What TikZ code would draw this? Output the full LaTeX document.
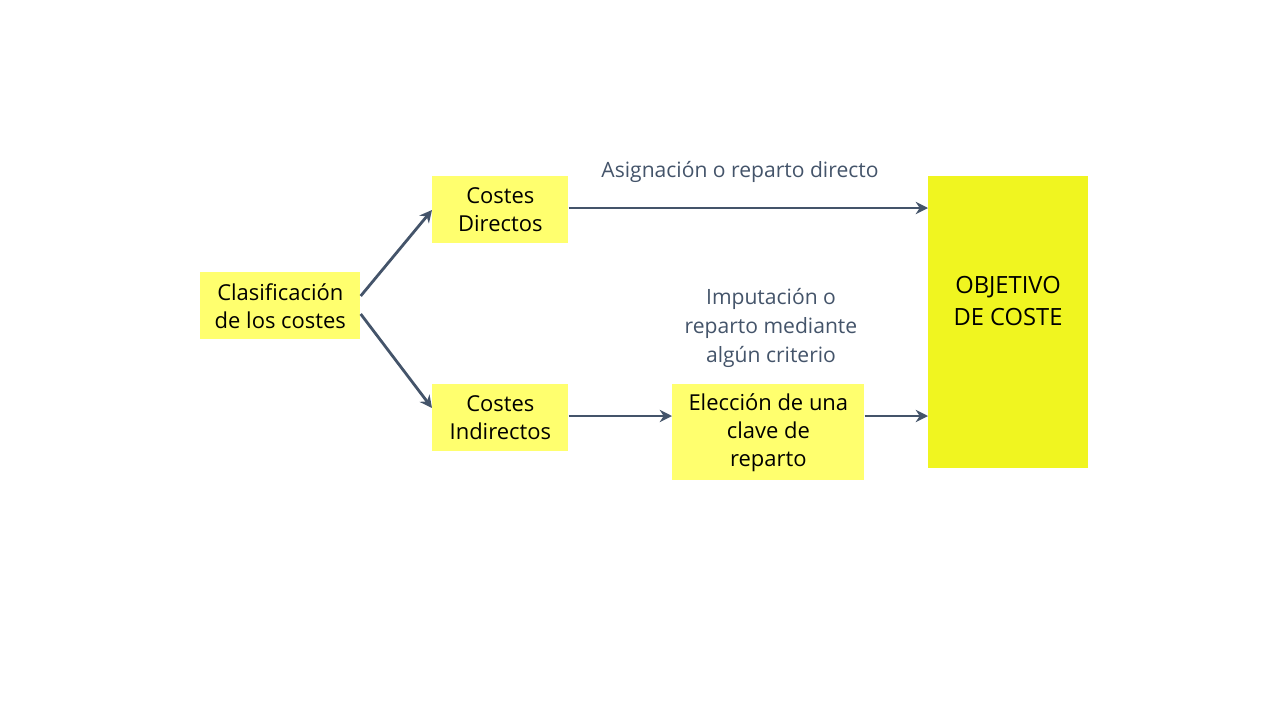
\documentclass[tikz,border=0pt]{standalone}
\usepackage{fontspec}
\setmainfont{Open Sans}
\usetikzlibrary{arrows.meta}
\definecolor{boxy}{HTML}{FFFF6E}
\definecolor{objy}{HTML}{F0F520}
\definecolor{arr}{HTML}{44546A}
\tikzset{
 box/.style={fill=boxy,draw=none,anchor=north west,inner sep=0pt,align=center,font=\fontsize{12.5}{16}\selectfont},
 conn/.style={draw=arr,line width=1.6pt,-{Stealth[length=7pt,width=7pt]}},
 lab/.style={text=arr,align=center,font=\fontsize{12}{16.5}\selectfont}
}
\begin{document}
\begin{tikzpicture}[x=0.02cm,y=-0.02cm]
\useasboundingbox (0,0) rectangle (1280,720);
\node[box,minimum width=160*0.02cm,minimum height=67*0.02cm] (cl) at (200,272) {Clasificación\\de los costes};
\node[box,minimum width=136*0.02cm,minimum height=67*0.02cm] (cd) at (432,176) {Costes\\Directos};
\node[box,minimum width=136*0.02cm,minimum height=67*0.02cm] (ci) at (432,384) {Costes\\Indirectos};
\node[box,minimum width=192*0.02cm,minimum height=96*0.02cm] (el) at (672,384) {Elección de una\\clave de\\reparto};
\node[box,fill=objy,minimum width=160*0.02cm,minimum height=292*0.02cm] (ob) at (928,176) {};
\node[font=\fontsize{13.5}{18}\selectfont,align=center] (obt) at (1008,301) {OBJETIVO\\DE COSTE};
\coordinate (ob1) at (928,208);
\coordinate (ob2) at (928,416);
\draw[conn] (cl.east |- 0,296) -- (cd.west |- 0,210);
\draw[conn] (cl.east |- 0,314) -- (ci.west |- 0,408);
\draw[conn] (cd.east |- 0,208) -- (ob1);
\draw[conn] (ci.east |- 0,416) -- (el.west |- 0,416);
\draw[conn] (el.east |- 0,416) -- (ob2);
\node[lab] (l1) at (740,172) {Asignación o reparto directo};
\node[lab] (l2) at (771,328) {Imputación o\\reparto mediante\\algún criterio};
\end{tikzpicture}
\end{document}
